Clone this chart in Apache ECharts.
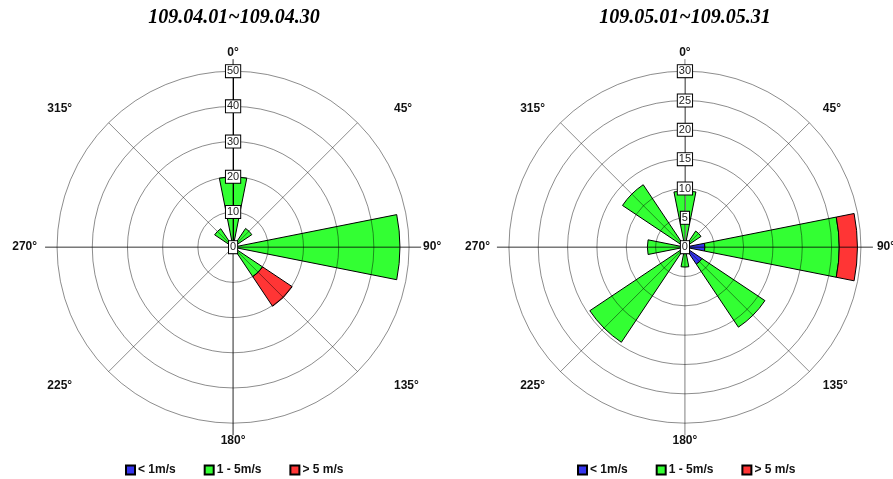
<!DOCTYPE html>
<html><head><meta charset="utf-8">
<script src="https://cdn.jsdelivr.net/npm/echarts@6/dist/echarts.min.js"></script>
<style>html,body{margin:0;padding:0;background:#fff}#c{width:893px;height:479px}</style>
</head><body><div id="c"></div>
<script>
// ---- data ----
const directions = ['N', 'NE', 'E', 'SE', 'S', 'SW', 'W', 'NW'];
const angleTicks = [0, 45, 90, 135, 180, 225, 270, 315];
const seriesNames = ['< 1m/s', '1 - 5m/s', '> 5 m/s'];
const titleApr = '109.04.01~109.04.30';
const titleMay = '109.05.01~109.05.31';
const aprLow  = [0, 0, 0, 0, 0, 0, 0, 0];
const aprMid  = [20, 6.4, 47.4, 10.1, 0, 0, 0, 6.3];
const aprHigh = [0, 0, 0, 10.1, 0, 0, 0, 0];
const mayLow  = [0, 0, 3.4, 3.5, 0, 0, 0, 0];
const mayMid  = [9.6, 3.3, 22.9, 12.9, 3.4, 19.5, 6.4, 12.8];
const mayHigh = [0, 0, 3.1, 0, 0, 0, 0, 0];
const aprRadius = {max: 50, interval: 10};
const mayRadius = {max: 30, interval: 5};

// ---- styling / layout ----
const colors = ['#3535ee', '#33ff33', '#ff3535'];
const gridColor = 'rgba(0,0,0,0.45)';
const R = 176, RCROSS = 188;
const charts = [
  {title: titleApr, data: [aprLow, aprMid, aprHigh], radius: aprRadius, center: ['26.1%', '51.6%'], titleLeft: 229, legendLeft: 120,
   labelPad: {0: [0,0,0,0], 45: [0,0,0,28], 90: [0,0,0,2], 135: [0,0,0,28], 180: [0,0,0,0], 225: [0,28,0,0], 270: [0,8,0,0], 315: [0,28,0,0]},
   cross: ['rgba(0,0,0,0.85)', 'rgba(0,0,0,0.8)'], axisColor: '#000'},
  {title: titleMay, data: [mayLow, mayMid, mayHigh], radius: mayRadius, center: ['76.7%', '51.6%'], titleLeft: 680, legendLeft: 572,
   labelPad: {0: [0,0,0,0], 45: [0,0,0,5], 90: [0,0,0,4], 135: [0,0,0,5], 180: [0,0,0,0], 225: [0,7,0,0], 270: [0,7,0,0], 315: [0,7,0,0]},
   cross: ['rgba(0,0,0,0.5)', 'rgba(0,0,0,0.8)'], axisColor: '#777'}
];

const labelFont = {fontFamily: 'Liberation Sans', fontWeight: 'bold', fontSize: 12, color: '#111'};

const option = {
  animation: false,
  backgroundColor: '#fff',
  title: [], legend: [], polar: [], angleAxis: [], radiusAxis: [], series: []
};

charts.forEach((c, ci) => {
  const gi = ci * 3, xi = ci * 3 + 1, bi = ci * 3 + 2;
  option.title.push({
    text: c.title, left: c.titleLeft, top: 3, textAlign: 'center',
    textStyle: {fontFamily: 'Liberation Serif', fontStyle: 'italic', fontWeight: 'bold', fontSize: 20, color: '#000'}
  });
  option.legend.push({
    data: seriesNames, left: c.legendLeft, top: 459, orient: 'horizontal',
    icon: 'rect', itemWidth: 9, itemHeight: 9, itemGap: 28,
    selectedMode: false,
    textStyle: {fontFamily: 'Liberation Sans', fontWeight: 'bold', fontSize: 12, color: '#111', padding: [0, 0, 0, -2]}
  });
  // grid polar: circles, diagonal spokes, labels (drawn above the petals)
  option.polar.push({center: c.center, radius: R});
  const rich = {};
  angleTicks.forEach(a => { rich['p' + a] = Object.assign({padding: c.labelPad[a]}, labelFont); });
  option.angleAxis.push({
    polarIndex: gi, type: 'value', min: 0, max: 360, interval: 45, startAngle: 90, clockwise: true, zlevel: 1, z: 4,
    axisLine: {show: false}, axisTick: {show: false},
    axisLabel: Object.assign({margin: 12, formatter: v => '{p' + v + '|' + v + '°}', rich: rich}, labelFont),
    splitLine: {show: true, lineStyle: {width: 1, color: ['rgba(0,0,0,0)', gridColor]}}
  });
  option.radiusAxis.push({
    polarIndex: gi, type: 'value', min: 0, max: c.radius.max, interval: c.radius.interval, zlevel: 1, z: 6,
    axisLine: {show: true, lineStyle: {color: c.axisColor, width: 1}},
    axisTick: {show: false},
    axisLabel: {margin: 0, align: 'center', verticalAlign: 'middle', fontFamily: 'Liberation Sans', fontSize: 11,
      color: '#222', backgroundColor: '#fff', borderColor: '#000', borderWidth: 1, padding: [1, 1, 0, 1], lineHeight: 11},
    splitLine: {show: true, lineStyle: {color: gridColor, width: 1}}
  });
  // cross polar: cardinal lines extending a little past the outer circle
  option.polar.push({center: c.center, radius: RCROSS});
  option.angleAxis.push({
    polarIndex: xi, type: 'value', min: 0, max: 360, interval: 90, startAngle: 90, clockwise: true, zlevel: 1, z: 5,
    axisLine: {show: false}, axisTick: {show: false}, axisLabel: {show: false},
    splitLine: {show: true, lineStyle: {width: 1, color: c.cross}}
  });
  option.radiusAxis.push({polarIndex: xi, type: 'value', min: 0, max: 1, show: false});
  // bar polar
  option.polar.push({center: c.center, radius: R});
  option.angleAxis.push({polarIndex: bi, type: 'category', data: directions, boundaryGap: false, startAngle: 90, clockwise: true, show: false});
  option.radiusAxis.push({polarIndex: bi, type: 'value', min: 0, max: c.radius.max, show: false});
  c.data.forEach((arr, si) => {
    option.series.push({
      type: 'bar', coordinateSystem: 'polar', polarIndex: bi, name: seriesNames[si], stack: 'rose' + ci,
      barCategoryGap: '50%', z: 2,
      data: arr.map(v => v === 0 ? '-' : v),
      itemStyle: {color: colors[si], borderColor: '#000', borderWidth: 1}
    });
  });
});

const chart = echarts.init(document.getElementById('c'), null, {renderer: 'canvas'});
chart.setOption(option);
</script>
</body></html>
